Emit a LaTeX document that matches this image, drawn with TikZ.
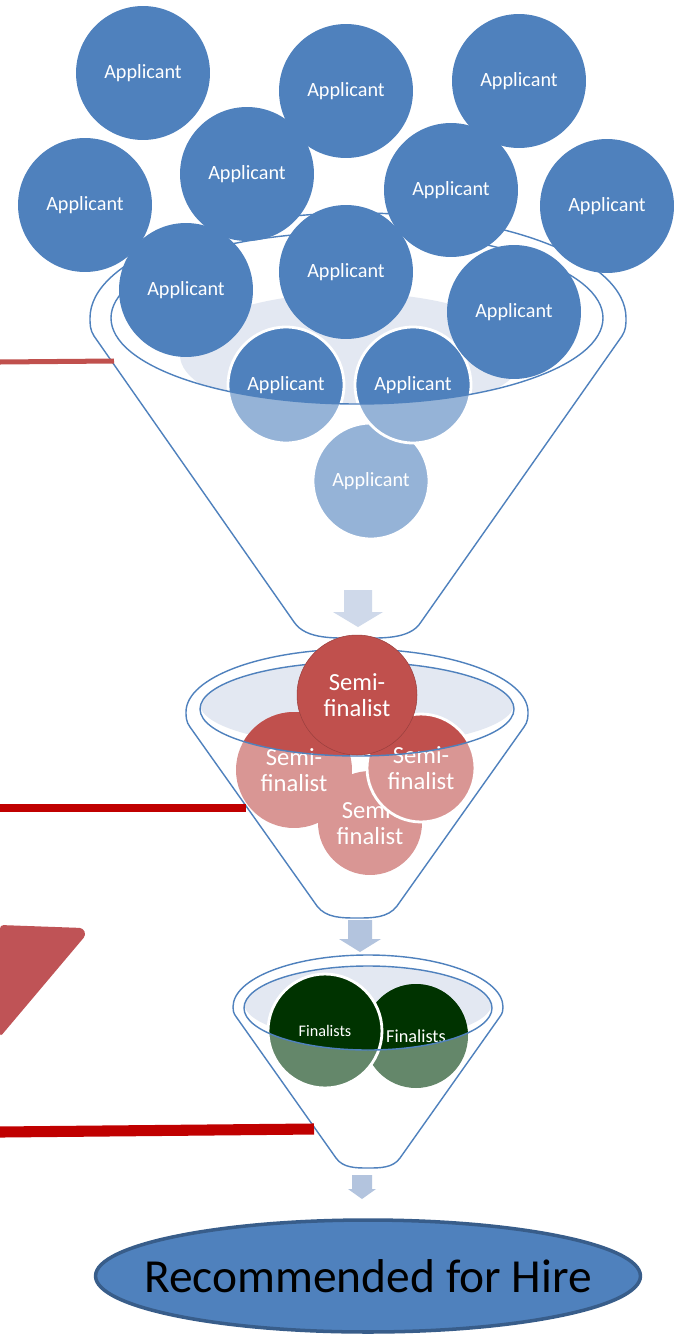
\documentclass[tikz,border=0pt]{standalone}
\usepackage{fontspec}
\setmainfont{Carlito}
\usepackage{tikz}
\usetikzlibrary{shapes.geometric}

\definecolor{appBlue}{HTML}{4F81BD}
\definecolor{appLight}{HTML}{95B3D7}
\definecolor{semiRed}{HTML}{C0504D}
\definecolor{semiLight}{HTML}{D99694}
\definecolor{finDark}{HTML}{003300}
\definecolor{finLight}{HTML}{64876A}
\definecolor{cupFill}{HTML}{E3E8F2}
\definecolor{hireEdge}{HTML}{385D8A}
\definecolor{barRed}{HTML}{C00000}
\definecolor{flagRed}{HTML}{BF5356}
\definecolor{dropOne}{HTML}{CFD9EA}
\definecolor{dropTwo}{HTML}{B3C4DE}

\newcommand{\dropArrow}[7]{%
  \fill[#7] (#1-#5,#2) -- (#1+#5,#2) -- (#1+#5,#3) -- (#1+#6,#3) -- (#1,#4) -- (#1-#6,#3) -- (#1-#5,#3) -- cycle;}

\tikzset{
  funnel/.style={draw=appBlue, line width=0.8pt},
  applicant/.style={shape=circle, fill=appBlue, text=white, inner sep=0pt, minimum size=2.68cm, font=\fontsize{11.5}{13}\selectfont},
  lowapplicant/.style={applicant, minimum size=2.32cm, fill=appLight, draw=white, line width=1.6pt,
    path picture={\fill[appBlue] (rimA) ellipse [x radius=4.92cm, y radius=1.72cm];}},
  semi/.style={shape=circle, fill=semiRed, text=white, inner sep=0pt, align=center, font=\fontsize{14}{14.5}\selectfont},
  lowsemi/.style={semi, fill=semiLight,
    path picture={\fill[semiRed] (rimB) ellipse [x radius=3.14cm, y radius=0.94cm];}},
  finalist/.style={shape=circle, fill=finLight, text=white, inner sep=0pt,
    path picture={\fill[finDark] (rimC) ellipse [x radius=2.48cm, y radius=0.84cm];}},
  hire/.style={shape=ellipse, fill=appBlue, draw=hireEdge, line width=2pt, inner sep=0pt,
    minimum width=10.9cm, minimum height=2.24cm, font=\fontsize{27}{30}\selectfont}
}

\begin{document}
\begin{tikzpicture}[x=0.02cm, y=-0.02cm]
    \useasboundingbox[fill=white] (0,0) rectangle (675,1335);
    \coordinate (rimA) at (357,318);
    \coordinate (rimB) at (357,709);
    \coordinate (rimC) at (368,1008);

    % first funnel
    \draw[funnel] (94,336) .. controls (90,330) and (90,324) .. (90,318) arc[start angle=180, end angle=360, x radius=268, y radius=105] .. controls (626,324) and (626,330) .. (622,336) -- (421,622) .. controls (410,640) and (380,638) .. (358,638) .. controls (336,638) and (306,640) .. (294,622) -- cycle;
    \begin{scope}
    \clip (rimA) ellipse [x radius=246, y radius=86];
    \fill[cupFill] (352,355) ellipse [x radius=172, y radius=62];
    \end{scope}
    \node[lowapplicant] (app13) at (371,481) {Applicant};
    \node[lowapplicant] (app11) at (286,385) {Applicant};
    \node[lowapplicant] (app12) at (413,385) {Applicant};
    \draw[funnel] (rimA) ellipse [x radius=246, y radius=86];
    \node[applicant] (app1) at (143,73) {Applicant};
    \node[applicant] (app2) at (346,91) {Applicant};
    \node[applicant] (app3) at (519,81) {Applicant};
    \node[applicant] (app4) at (85,205) {Applicant};
    \node[applicant] (app7) at (607,206) {Applicant};
    \node[applicant] (app5) at (247,174) {Applicant};
    \node[applicant] (app6) at (451,190) {Applicant};
    \node[applicant] (app9) at (346,272) {Applicant};
    \node[applicant] (app8) at (186,290) {Applicant};
    \node[applicant] (app10) at (514,312) {Applicant};
    \dropArrow{358}{590}{612}{627}{14}{25}{dropOne}

    % second funnel
    \draw[funnel] (190,727) .. controls (186,722) and (186,716) .. (186,712) arc[start angle=180, end angle=360, x radius=171, y radius=63] .. controls (528,716) and (528,722) .. (524,727) -- (397,906) .. controls (388,918) and (372,918) .. (357,918) .. controls (342,918) and (326,918) .. (317,906) -- cycle;
    \begin{scope}
    \clip (rimB) ellipse [x radius=157, y radius=47];
    \fill[cupFill] (357,704) ellipse [x radius=157, y radius=42];
    \end{scope}
    \node[lowsemi, minimum size=2.08cm] (semiD) at (370,823) {Semi-\\finalist};
    \node[lowsemi, minimum size=2.32cm] (semiB) at (294,770) {Semi-\\finalist};
    \node[lowsemi, minimum size=2.16cm, draw=white, line width=1.6pt] (semiC) at (421,768) {Semi-\\finalist};
    \draw[funnel] (rimB) ellipse [x radius=157, y radius=47];
    \node[semi, minimum size=2.4cm, draw=semiRed!80!black, line width=0.3pt] (semiA) at (357,695) {Semi-\\finalist};
    \dropArrow{360}{920}{939}{952}{12}{21}{dropTwo}

    % third funnel
    \draw[funnel] (237,1018) .. controls (233,1013) and (233,1010) .. (233,1007) arc[start angle=180, end angle=360, x radius=135, y radius=52] .. controls (503,1010) and (503,1013) .. (499,1018) -- (400,1158) .. controls (393,1168) and (380,1168) .. (368,1168) .. controls (356,1168) and (343,1168) .. (336,1158) -- cycle;
    \begin{scope}
    \clip (rimC) ellipse [x radius=124, y radius=42];
    \fill[cupFill] (368,1003) ellipse [x radius=124, y radius=38];
    \end{scope}
    \node[finalist, minimum size=2.08cm, font=\fontsize{10.4}{12}\selectfont] (finR) at (416,1036) {Finalists};
    \node[finalist, minimum size=2.28cm, draw=white, line width=1.6pt, font=\fontsize{9.2}{11}\selectfont] (finL) at (325,1031) {Finalists};
    \draw[funnel] (rimC) ellipse [x radius=124, y radius=42];
    \dropArrow{362}{1175}{1189}{1199}{10}{14}{dropTwo}

    \node[hire] (hire) at (368,1276) {\makebox[0pt]{Recommended for Hire}};

    % bars on the left
    \coordinate (edgeA) at (0,362);
    \coordinate (sideA) at (114,361);
    \coordinate (edgeB) at (0,808);
    \coordinate (sideB) at (246,808);
    \coordinate (edgeC) at (0,1132);
    \coordinate (sideC) at (314,1129);
    \draw[semiRed, line width=2.85pt] (edgeA) -- (sideA);
    \draw[barRed, line width=4pt] (edgeB) -- (sideB);
    \draw[barRed, line width=6.3pt] (edgeC) -- (sideC);
    \fill[flagRed, rounded corners=2pt] (0,925) -- (83,928) -- (86,935) -- (0,1037) -- cycle;
\end{tikzpicture}
\end{document}
